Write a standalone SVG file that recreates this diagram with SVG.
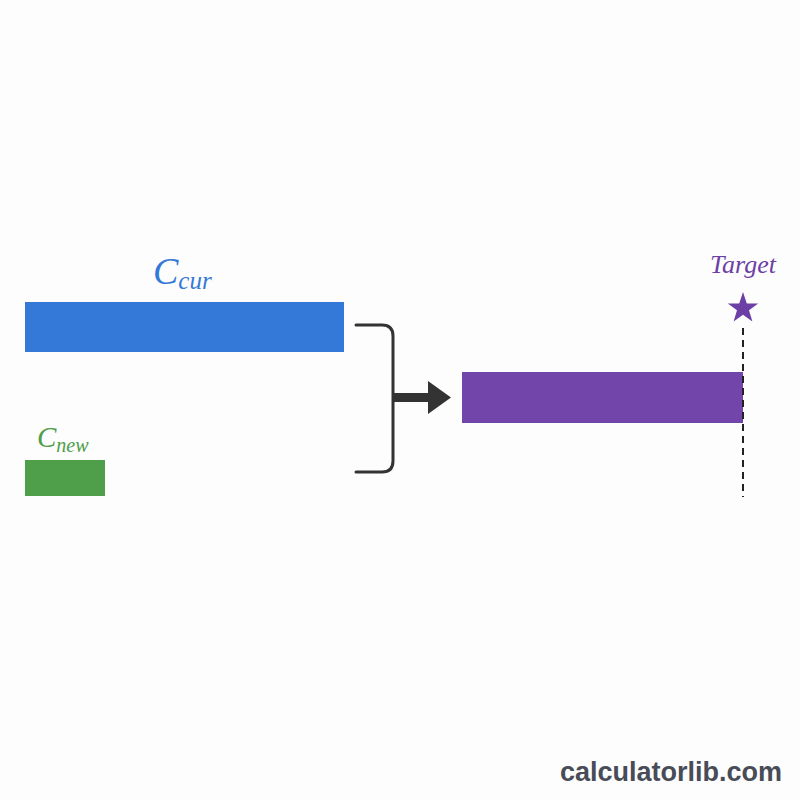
<svg xmlns="http://www.w3.org/2000/svg" width="800" height="800" viewBox="0 0 800 800">
<style>
.lbl{font-family:"Liberation Serif","Times New Roman",serif;font-style:italic}
.br{fill:none;stroke:#333;stroke-width:3;stroke-linecap:round}
</style>
<rect width="800" height="800" fill="#fdfdfd"/>
<g id="c-cur">
<rect x="25" y="302" width="319" height="50" fill="#3579d8"/>
<text class="lbl" x="153" y="284" font-size="38" fill="#3579d8">C<tspan font-size="25" dy="5">cur</tspan></text>
</g>
<g id="c-new">
<rect x="25" y="460" width="80" height="36" fill="#4e9e4a"/>
<text class="lbl" x="37" y="447" font-size="29" fill="#4e9e4a">C<tspan font-size="20" dy="5">new</tspan></text>
</g>
<g id="result">
<rect x="462" y="372" width="281" height="51" fill="#7245aa"/>
</g>
<g id="target">
<text class="lbl" x="743" y="273" font-size="26" fill="#6b3fa6" text-anchor="middle">Target</text>
<polygon fill="#6b3fa6" points="743,292 746.8,303.5 758.2,303.5 749,310.3 752.4,321.6 743,314.8 733.6,321.6 737,310.3 727.8,303.5 739.2,303.5"/>
</g>
<g id="connectors">
<path class="br" d="M356 325 H382 Q393 325 393 336 V461 Q393 472 382 472 H356"/>
<rect x="393" y="393" width="36" height="9" fill="#333"/>
<polygon points="428,381 451,397.5 428,414" fill="#333"/>
<line x1="743" y1="328" x2="743" y2="497" stroke="#222" stroke-width="2" stroke-dasharray="7,5"/>
</g>
<text x="782" y="781" font-family="Liberation Sans,Arial,sans-serif" font-weight="bold" font-size="27" fill="#474c57" text-anchor="end">calculatorlib.com</text>
</svg>
